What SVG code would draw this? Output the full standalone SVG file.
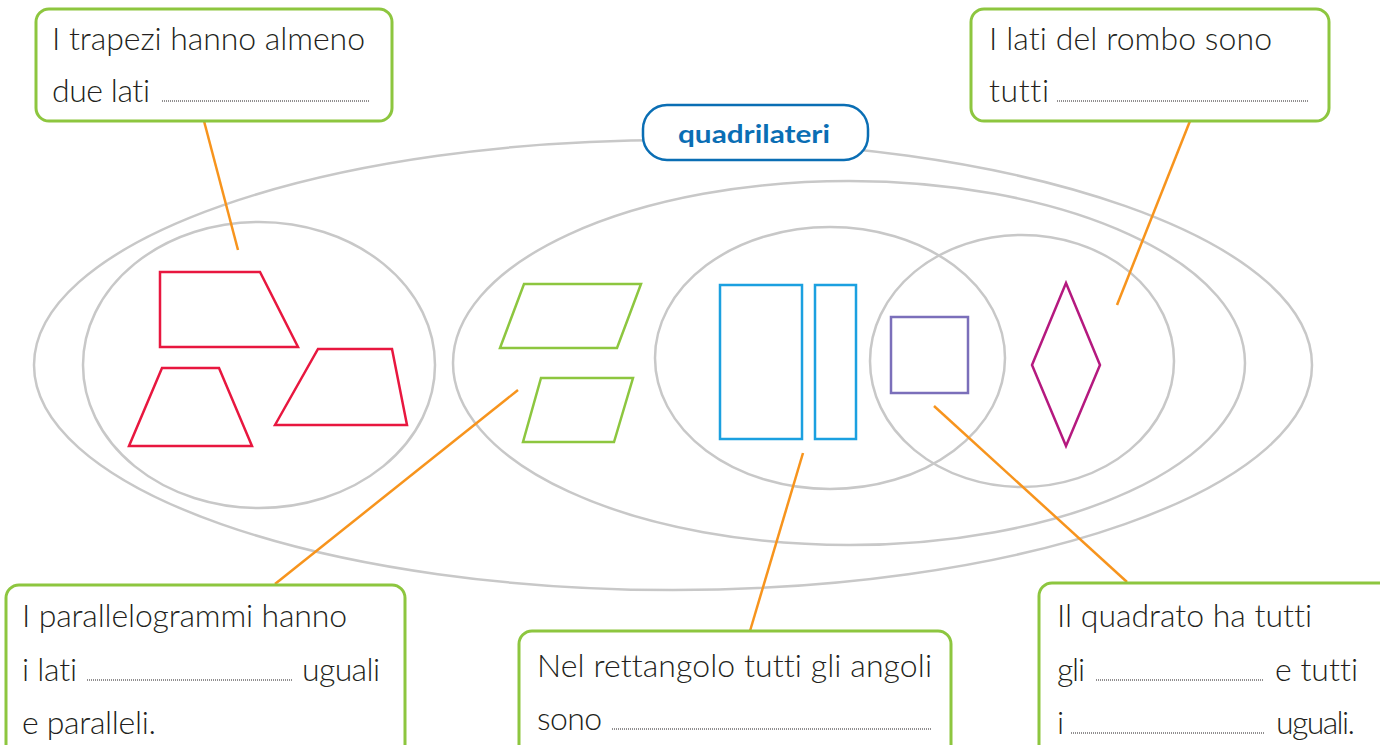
<svg xmlns="http://www.w3.org/2000/svg" width="1380" height="745" viewBox="0 0 1380 745">
<style>
.ell{fill:none;stroke:#c8c8c8;stroke-width:2.5}
.box{fill:#fff;stroke:#8dc63f;stroke-width:3}
.t{font-family:Lato,"Open Sans",sans-serif;font-size:32px;font-weight:300;fill:#231f20;font-variant-ligatures:none}
.dot{stroke:#231f20;stroke-width:1;stroke-dasharray:1 1}
.con{stroke:#f7941d;stroke-width:2.5;fill:none}
.sh{fill:none;stroke-width:2.5}
</style>
<rect width="1380" height="745" fill="#fff"/>
<g id="sets">
<ellipse class="ell" cx="673" cy="365" rx="639" ry="225"/>
<ellipse class="ell" cx="259" cy="365" rx="176" ry="143"/>
<ellipse class="ell" cx="849" cy="363" rx="396" ry="182"/>
<ellipse class="ell" cx="830" cy="358" rx="175" ry="131"/>
<ellipse class="ell" cx="1022" cy="361" rx="152" ry="126"/>
</g>
<g id="shapes">
<polygon class="sh" stroke="#e8173f" points="160,272 260,272 298,347 160,347"/>
<polygon class="sh" stroke="#e8173f" points="129,446 162,368 219,368 252,446"/>
<polygon class="sh" stroke="#e8173f" points="275,425 318,349 392,349 407,425"/>
<polygon class="sh" stroke="#8dc63f" points="524,284 641,284 617,348 500,348"/>
<polygon class="sh" stroke="#8dc63f" points="541,378 633,378 614,442 523,442"/>
<rect class="sh" stroke="#1ba0e0" x="720" y="285" width="82" height="154"/>
<rect class="sh" stroke="#1ba0e0" x="815" y="285" width="41" height="154"/>
<rect class="sh" stroke="#7b6fba" x="891" y="317" width="77" height="76"/>
<polygon class="sh" stroke="#b5197f" points="1066,283 1100,365 1066,446 1032,365"/>
</g>
<g id="connectors">
<line class="con" x1="204" y1="121" x2="238" y2="250"/>
<line class="con" x1="275" y1="584" x2="518" y2="390"/>
<line class="con" x1="750" y1="631" x2="803" y2="453"/>
<line class="con" x1="1127" y1="582" x2="934" y2="406"/>
<line class="con" x1="1190" y1="121" x2="1117" y2="305"/>
</g>
<g id="quadrilateri">
<rect x="643" y="105" width="225" height="55" rx="24" fill="#fff" stroke="#0a6eb4" stroke-width="2.5"/>
<text x="678" y="143" textLength="152" lengthAdjust="spacingAndGlyphs" font-family="Lato,'Open Sans',sans-serif" font-weight="bold" font-size="25" fill="#0a6eb4">quadrilateri</text>
</g>
<g id="box-trapezi">
<rect class="box" x="36" y="9" width="356" height="112" rx="13"/>
<text class="t" x="52" y="50" textLength="313">I trapezi hanno almeno</text>
<text class="t" x="52" y="102" textLength="98">due lati</text>
<line class="dot" x1="162" y1="101" x2="370" y2="101"/>
</g>
<g id="box-rombo">
<rect class="box" x="971" y="9" width="358" height="112" rx="13"/>
<text class="t" x="989" y="50" textLength="283">I lati del rombo sono</text>
<text class="t" x="989" y="102" textLength="60">tutti</text>
<line class="dot" x1="1057" y1="101" x2="1308" y2="101"/>
</g>
<g id="box-parallelogrammi">
<rect class="box" x="6" y="585" width="399" height="175" rx="13"/>
<text class="t" x="22" y="627" textLength="325">I parallelogrammi hanno</text>
<text class="t" x="22" y="681" textLength="55">i lati</text>
<line class="dot" x1="87" y1="680" x2="292" y2="680"/>
<text class="t" x="302" y="681" textLength="78">uguali</text>
<text class="t" x="22" y="734" textLength="134">e paralleli.</text>
</g>
<g id="box-rettangolo">
<rect class="box" x="519" y="631" width="432" height="130" rx="13"/>
<text class="t" x="537" y="677" textLength="395">Nel rettangolo tutti gli angoli</text>
<text class="t" x="537" y="730" textLength="65">sono</text>
<line class="dot" x1="612" y1="729" x2="932" y2="729"/>
</g>
<g id="box-quadrato">
<rect class="box" x="1039" y="583" width="360" height="178" rx="13"/>
<text class="t" x="1057" y="627" textLength="255">Il quadrato ha tutti</text>
<text class="t" x="1057" y="681" textLength="28">gli</text>
<line class="dot" x1="1096" y1="680" x2="1264" y2="680"/>
<text class="t" x="1275" y="681" textLength="83">e tutti</text>
<text class="t" x="1057" y="734">i</text>
<line class="dot" x1="1071" y1="733" x2="1265" y2="733"/>
<text class="t" x="1276" y="734" textLength="79">uguali.</text>
</g>
</svg>
